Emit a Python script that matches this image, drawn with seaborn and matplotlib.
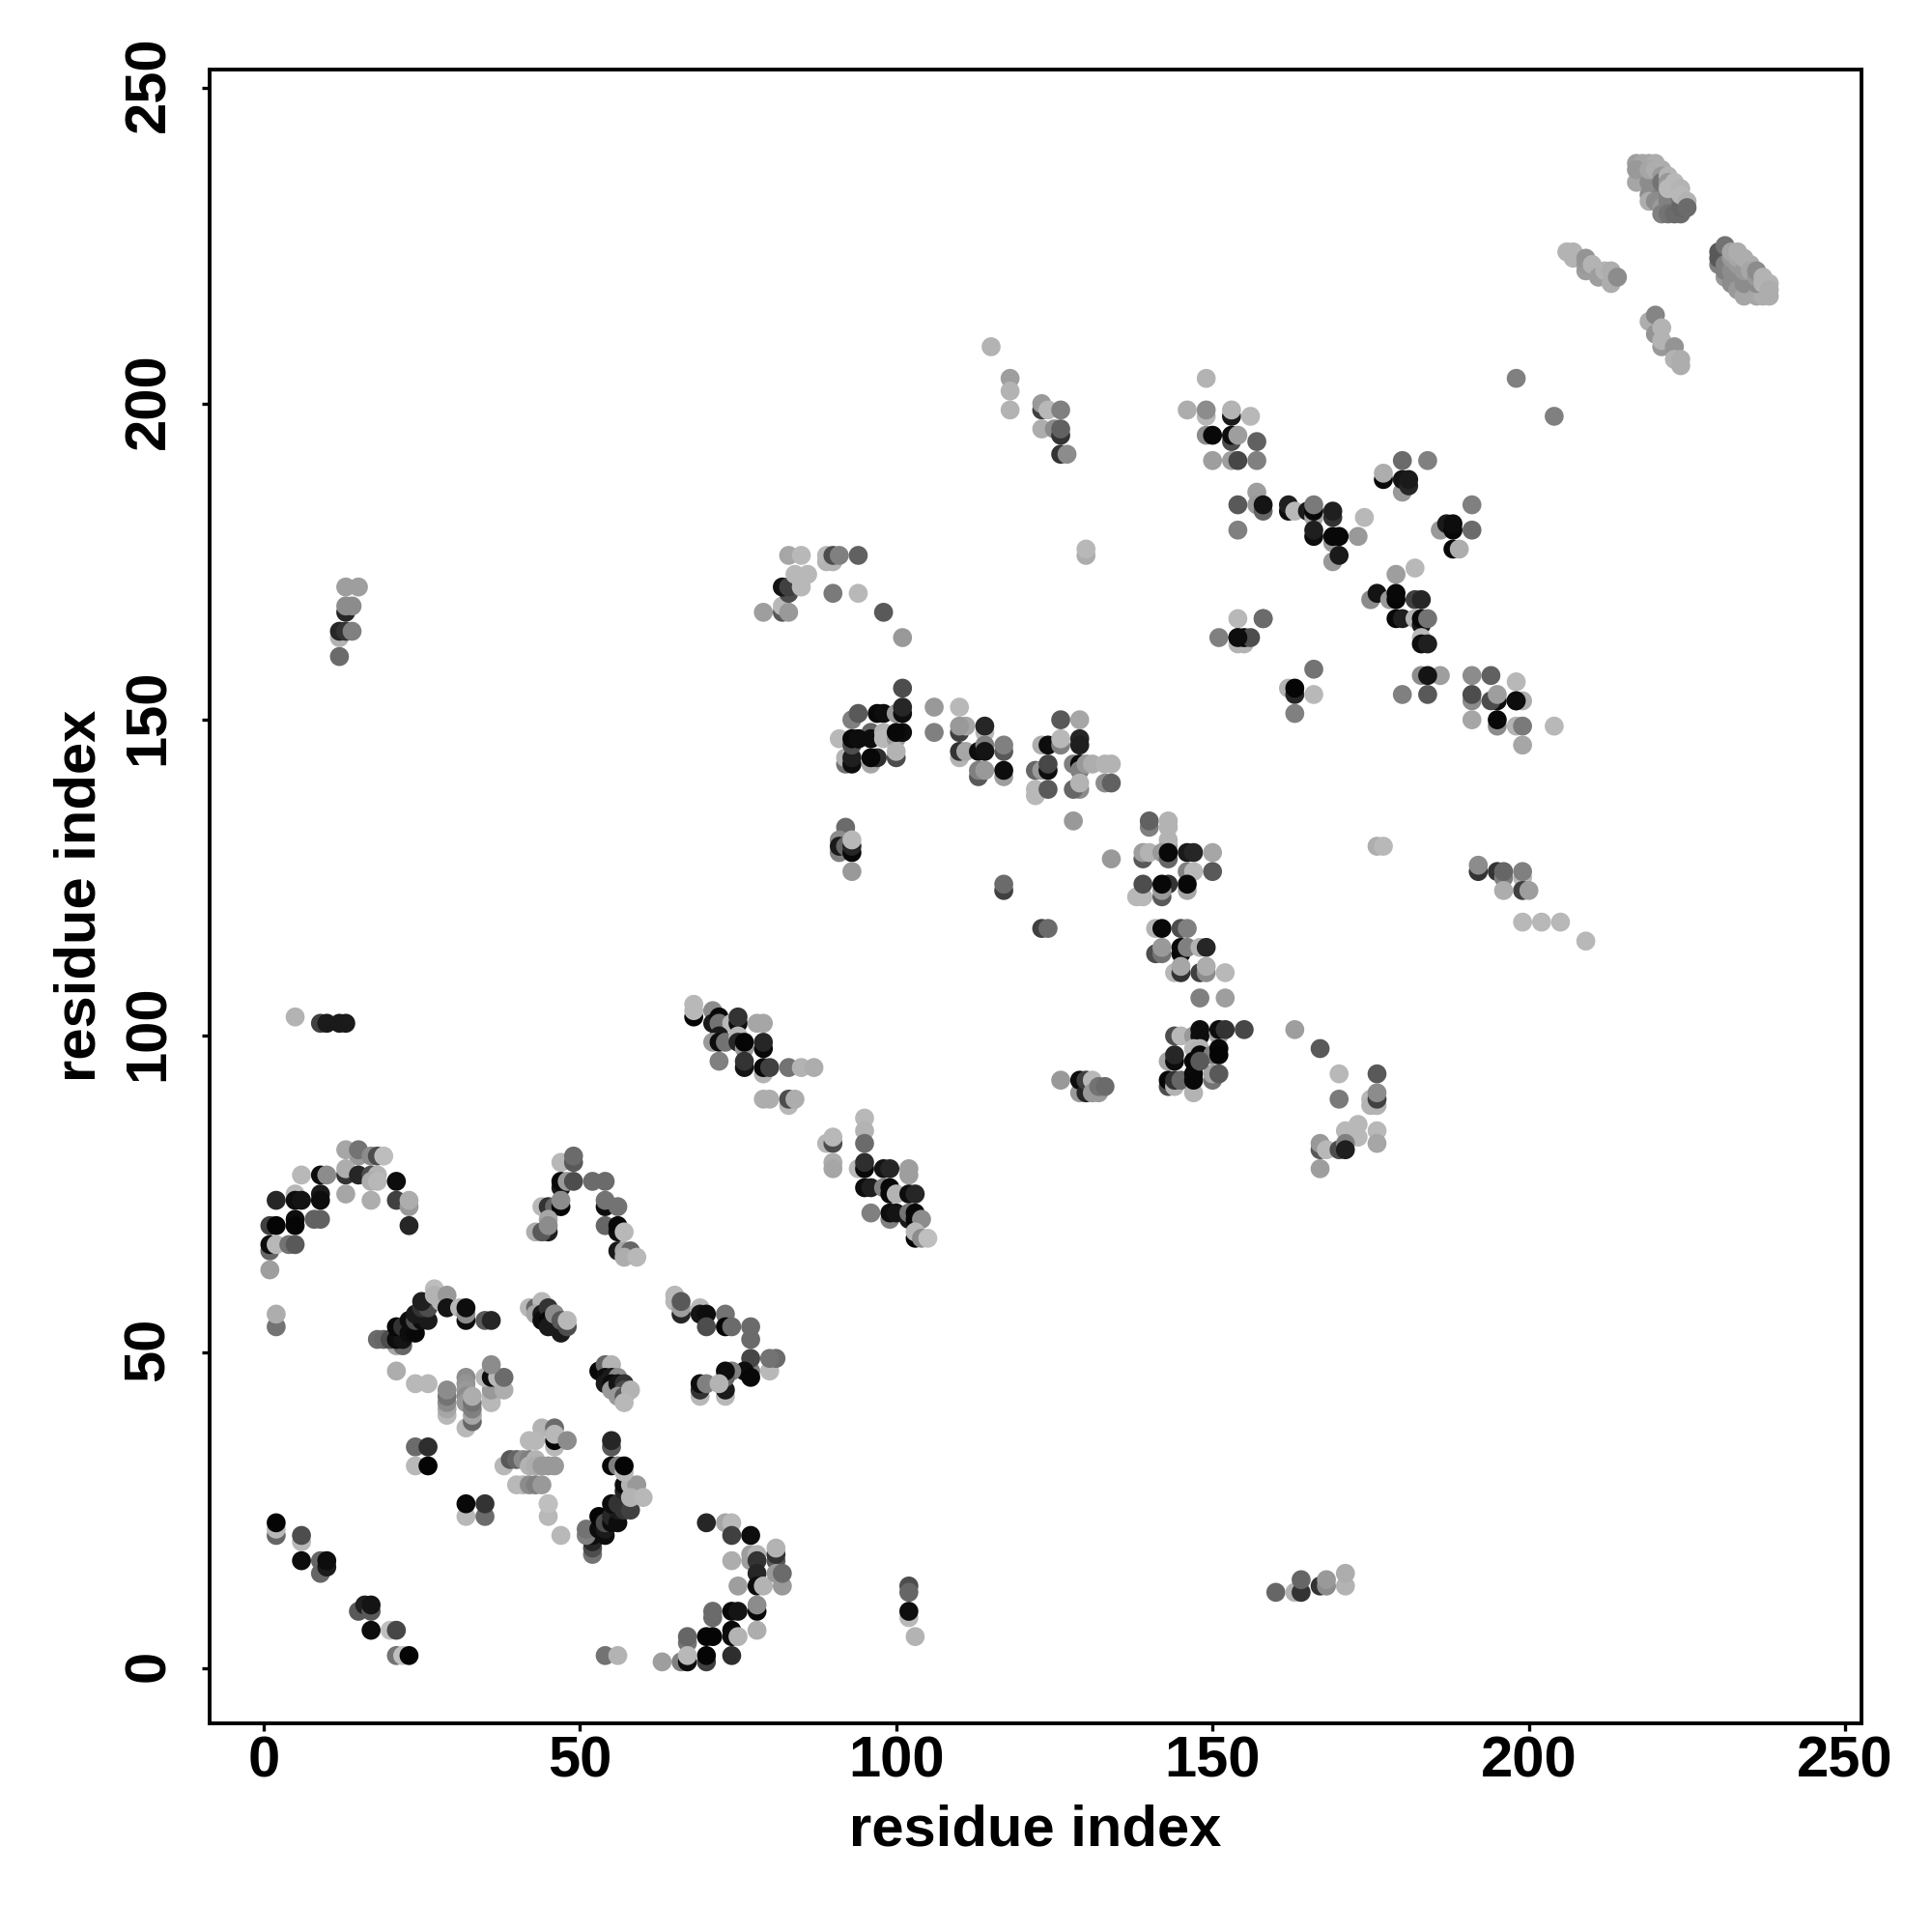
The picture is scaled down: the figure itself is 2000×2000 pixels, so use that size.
# Contact map: residue index vs residue index, gray = contact strength
import pandas as pd
import matplotlib
matplotlib.use("Agg")
import matplotlib.pyplot as plt
from matplotlib.transforms import ScaledTranslation
import seaborn as sns

# each cluster is listed back to front, the later points sit on top
arc1_x = [15,13,15,17,18,19,13,13,15,17,18,17,18,21,9,10,6,13,17,21,23,23,23,2,5,5,6,9,9,1,2,5,5,8,9,1,1,2,4,5,1,2,2]
arc1_y = [81,82,82,81,81,81,78,79,78,78,78,77,77,77,78,78,78,75,74,74,73,74,70,74,75,74,74,75,74,70,70,71,70,71,71,66,67,67,67,67,63,54,56]
arc1_g = [.6,.65,.45,.55,.3,.74,.2,.68,.15,.3,.7,.68,.72,.05,.05,.55,.72,.65,.68,.25,.6,.68,.15,.15,.72,.05,.08,.1,.05,.25,.02,.05,.02,.38,.38,.4,.05,.72,.45,.35,.62,.45,.68]

arc2_x = [47,49,49,47,47,48,49,52,54,44,45,46,47,47,54,54,56,43,45,44,45,45,54,56,56,57,56,57,58,57,59]
arc2_y = [80,80,81,76,77,77,77,77,77,73,73,73,73,74,73,74,73,69,69,69,71,70,70,69,70,69,66,66,66,65,65]
arc2_g = [.72,.35,.42,.1,.03,.6,.3,.42,.42,.72,.2,.4,.02,.55,.05,.45,.45,.68,.12,.35,.65,.55,.4,.05,.03,.72,.1,.65,.4,.68,.72]

band1_x = [21,22,18,19,20,21,22,21,22,23,24,23,24,25,26,24,25,26,25,27,27,28,29,29,31,32,32,32,35,36]
band1_y = [51,51,52,52,52,52,52,54,54,53,53,55,55,55,55,56,57,57,58,60,59,58,59,57,57,55,56,57,55,55]
band1_g = [.65,.4,.42,.4,.3,.05,.08,.03,.2,.05,.03,.05,.3,.05,.1,.1,.2,.3,.12,.74,.7,.7,.6,.08,.72,.05,.55,.05,.35,.15]

strip1_x = [21,24,26,29,29,29,29,29,32,32,32,32,32,32,33,33,33,33,33,36,36,36,36,35,36,37,38,38]
strip1_y = [47,45,45,40,41,42,43,44,46,45,44,43,42,38,39,40,41,42,43,42,43,44,47,46,46,46,44,46]
strip1_g = [.68,.72,.72,.72,.65,.55,.45,.55,.55,.58,.6,.55,.6,.72,.4,.65,.5,.45,.68,.72,.72,.6,.55,.72,.05,.72,.68,.42]
strip1_x += [36]
strip1_y += [48]
strip1_g += [.55]

mid1_x = [24,26,24,26,44,46,46,46,42,43,46,48,38,39,40,41,42,43,42,43,44,45,46,40,41,42,43,44,45,32,32,35,35,45,45,47]
mid1_y = [35,35,32,32,38,35,36,38,36,36,37,36,32,33,33,33,33,33,32,32,32,32,32,29,29,29,29,29,26,24,26,24,26,24,26,21]
mid1_g = [.42,.18,.72,.02,.7,.72,.02,.42,.72,.72,.72,.55,.72,.35,.4,.55,.5,.7,.7,.68,.6,.6,.6,.72,.72,.55,.5,.6,.72,.72,.03,.42,.2,.72,.75,.72]

band2_x = [42,43,44,43,44,44,45,45,45,46,46,46,47,47,47,48,48]
band2_y = [57,57,58,56,56,55,57,55,54,54,56,56,53,54,55,54,55]
band2_g = [.72,.4,.72,.65,.1,.05,.2,.03,.1,.1,.55,.55,.1,.1,.35,.3,.72]

band3_x = [53,54,55,54,55,56,54,55,55,56,57,57,56,57,58,57]
band3_y = [47,48,48,46,46,46,45,45,44,45,45,44,43,43,44,42]
band3_g = [.03,.4,.7,.05,.1,.55,.1,.05,.6,.08,.2,.3,.6,.35,.7,.72]

low1_x = [2,2,2,6,6,6,9,9,10,10,15,16,17,17,17,20,21,21,22,23]
low1_y = [21,22,23,20,21,17,15,17,16,17,9,10,9,10,6,6,6,2,2,2]
low1_g = [.4,.72,.02,.72,.3,.05,.4,.4,.1,.05,.35,.12,.35,.08,.05,.75,.28,.45,.75,.02]

band4_x = [52,52,52,52,51,51,53,53,54,54,54,55,55,56,56,55,56,57,58,57,57,58,59,58,60,54,56]
band4_y = [18,19,20,21,21,22,22,24,21,22,23,23,24,23,25,26,26,25,25,28,29,29,29,27,27,2,2]
band4_g = [.45,.3,.15,.05,.5,.45,.05,.02,.05,.1,.3,.05,.15,.05,.1,.05,.2,.2,.25,.15,.05,.7,.6,.7,.72,.45,.7]
band4_x += [55,55,55,56,57,57]
band4_y += [35,36,32,32,31,32]
band4_g += [.35,.15,.03,.5,.72,.02]

low2_x = [70,73,74,74,77,74,77,77,78,78,78,75,78,79,81,81,81,81,82,82]
low2_y = [23,23,23,21,21,17,17,18,18,17,15,13,13,13,17,18,19,15,13,15]
low2_g = [.15,.65,.72,.25,.05,.68,.62,.62,.7,.2,.15,.62,.05,.7,.35,.2,.7,.6,.6,.42]

low3_x = [71,71,74,75,78,78,78,74,74,75,67,67,70,71,66,67,70,70,74,63,102,102,102,102,103]
low3_y = [8,9,9,9,9,10,6,6,5,5,4,5,5,5,1,1,1,2,2,1,13,12,8,9,5]
low3_g = [.42,.42,.03,.08,.03,.55,.68,.03,.05,.7,.45,.4,.02,.02,.5,.05,.25,.02,.18,.62,.3,.4,.72,.05,.7]
low3_x += [67]
low3_y += [2]
low3_g += [.72]

mid2_x = [65,65,66,66,66,69,69,70,70,73,73,74,77,77,77,77,80,81,80,76,77]
mid2_y = [59,58,56,57,58,57,56,56,54,56,54,54,54,52,47,49,47,49,49,47,46]
mid2_g = [.72,.72,.15,.62,.35,.72,.08,.05,.3,.45,.02,.42,.42,.42,.5,.28,.72,.42,.45,.05,.03]

mid3_x = [73,73,74,73,73,69,69,69,70,72]
mid3_y = [43,44,47,46,47,43,44,45,45,45]
mid3_g = [.72,.1,.5,.4,.05,.72,.2,.05,.5,.7]

band5_x = [68,68,68,71,71,72,72,74,75,75,72,71,72,73,75,75,76,76,78,79,79,79,72,76,76,79,79,80,83,85,87,79,80,83,83,84]
band5_y = [103,104,105,104,102,103,102,102,102,103,100,99,99,99,100,99,98,99,102,102,98,99,96,95,96,94,95,95,95,95,95,90,90,89,90,90]
band5_g = [.02,.72,.72,.55,.1,.03,.45,.72,.05,.2,.1,.6,.05,.45,.72,.15,.6,.02,.65,.65,.03,.15,.5,.08,.2,.7,.03,.25,.45,.7,.68,.68,.68,.72,.3,.68]

band6_x = [95,95,95,89,90,90,90,90,94,95,95,98,99,102,102,95,96,98,99,99,100,102,103,96,99,99,100,102,102,103,103,104,103,103,104,105]
band6_y = [87,85,83,83,83,84,80,79,79,79,80,79,79,78,79,76,76,76,75,76,75,75,75,72,71,72,72,71,72,71,72,71,68,69,68,68]
band6_g = [.72,.7,.42,.72,.3,.72,.68,.65,.72,.03,.18,.08,.15,.62,.62,.05,.12,.5,.03,.03,.7,.05,.15,.5,.5,.05,.08,.1,.45,.03,.03,.55,.02,.72,.55,.75]

left_x = [5,9,10,12,13,12,13,13,14,12,12,13,14,13,15]
left_y = [103,102,102,102,102,160,167,168,168,163,164,164,164,171,171]
left_g = [.7,.25,.1,.1,.1,.42,.15,.55,.55,.7,.15,.2,.5,.62,.62]

bowl_x = [79,82,82,83,83,82,83,84,86,85,85,83,85,89,89,90,90,91,94,90,94,98,101]
bowl_y = [167,167,168,167,170,171,171,173,173,172,171,176,176,175,176,175,176,176,176,170,170,167,163]
bowl_g = [.62,.35,.72,.6,.3,.08,.25,.72,.72,.72,.72,.65,.72,.7,.72,.7,.3,.5,.38,.48,.72,.35,.6]

cl93_x = [93,94,97,98,100,101,101,91,92,92,93,93,93,94,96,96,96,97,100,98,98,100,101,100,100]
cl93_y = [150,151,151,151,151,151,152,147,143,144,143,144,146,147,143,148,147,144,144,148,147,147,148,148,145]
cl93_g = [.5,.35,.03,.05,.6,.05,.15,.72,.45,.7,.05,.12,.3,.05,.65,.4,.05,.18,.3,.7,.72,.6,.05,.03,.7]
cl93_x += [93,94,96,101]
cl93_y += [147,147,144,155]
cl93_g += [.03,.05,.03,.3]

cl110_x = [106,106,110,110,110,111,110,111,113,114,114,114,113,113,114,117,117,117,117,110]
cl110_y = [148,152,144,145,148,149,149,145,145,148,149,146,141,142,142,145,146,141,142,152]
cl110_g = [.5,.6,.7,.2,.25,.65,.6,.65,.05,.72,.15,.5,.35,.5,.6,.35,.5,.62,.05,.72]
cl110_x += [114]
cl110_y += [145]
cl110_g += [.08]

cl125_x = [122,122,122,123,124,124,124,123,124,126,126,126,129,129,129,128,129,129,129,128,129,130,131,133,134,133,134,128,130,130]
cl125_y = [138,139,142,142,142,143,139,146,146,146,147,150,150,147,146,143,143,142,139,139,140,143,143,143,143,140,140,134,176,177]
cl125_g = [.72,.72,.4,.6,.05,.28,.35,.68,.05,.5,.72,.35,.65,.15,.12,.5,.03,.5,.55,.4,.7,.6,.68,.7,.7,.55,.38,.6,.68,.72]

cl92_x = [92,92,91,91,91,92,93,93,93,93,117,117,123,124]
cl92_y = [132,133,131,129,130,130,129,130,131,126,123,124,117,117]
cl92_g = [.42,.42,.55,.5,.1,.4,.03,.15,.72,.6,.25,.42,.25,.42]

cl140_x = [140,140,143,143,143,143,139,139,140,142,143,143,146,147,150,134,146,147,150,138,139,139,142,143,142,146,146]
cl140_y = [133,134,133,134,130,131,128,129,129,129,128,129,129,129,129,128,126,126,126,122,122,124,122,124,123,123,124]
cl140_g = [.5,.38,.7,.7,.62,.7,.35,.62,.7,.6,.4,.03,.1,.15,.65,.6,.5,.72,.35,.72,.72,.3,.35,.2,.6,.65,.03]
cl140_x += [142]
cl140_y += [124]
cl140_g += [.03]

cl145_x = [141,142,145,146,141,142,142,145,145,146,148,149,144,145,145,148,149,149,152,148,152]
cl145_y = [117,117,117,117,113,113,114,113,114,114,114,114,110,110,111,110,110,111,110,106,106]
cl145_g = [.7,.03,.3,.5,.3,.45,.6,.02,.03,.5,.7,.15,.72,.2,.65,.25,.55,.68,.72,.5,.62]

cl147_x = [144,145,147,148,148,151,151,152,155,143,144,144,147,148,147,148,150,151,151]
cl147_y = [100,100,100,100,101,100,101,101,101,96,96,97,98,98,96,97,97,98,97]
cl147_g = [.3,.72,.6,.05,.05,.65,.05,.2,.28,.65,.05,.15,.72,.7,.03,.03,.5,.03,.02]
cl147_x += [143,143,144,144,145,147,147,147,150,150,151,148]
cl147_y += [92,93,92,93,93,91,93,94,93,94,94,96]
cl147_g += [.3,.03,.7,.2,.4,.7,.03,.03,.45,.65,.35,.35]

row93_x = [126,129,129,130,130,131,131,132,132,133]
row93_y = [93,91,93,91,93,93,91,91,92,92]
row93_g = [.6,.6,.05,.15,.25,.72,.6,.6,.45,.42]

cl170_x = [163,167,170,176,170,175,175,176,176,176,173,171,173,176,176,167,167,168,170,171,171,167]
cl170_y = [101,98,94,94,90,90,89,89,90,91,86,85,84,85,83,82,83,82,82,83,82,79]
cl170_g = [.62,.35,.72,.35,.48,.72,.7,.7,.25,.55,.72,.72,.72,.72,.65,.35,.6,.72,.3,.5,.12,.62]

cl195_x = [160,163,164,164,167,168,168,171,171,176,177,192,192,195,196,196,199,199,199,200,196,199,202,205,209]
cl195_y = [12,12,12,14,13,13,14,13,15,130,130,126,127,126,125,126,125,126,123,123,123,118,118,118,115]
cl195_g = [.4,.7,.2,.4,.2,.55,.6,.7,.68,.68,.72,.2,.55,.2,.5,.4,.72,.5,.25,.62,.68,.72,.72,.72,.72]

top1_x = [115,118,118,118,123,123,124,126,123,125,126,126,126,127]
top1_y = [209,204,202,199,199,200,199,199,196,196,195,196,192,192]
top1_g = [.7,.62,.7,.7,.25,.6,.72,.5,.68,.55,.2,.38,.2,.55]

top2_x = [149,146,149,149,153,153,156,149,150,153,153,154,157,150,153,154,157,198,204,198]
top2_y = [204,199,198,199,198,199,198,195,195,194,195,195,194,191,191,191,191,156,198,204]
top2_g = [.7,.68,.72,.55,.1,.7,.72,.55,.03,.3,.05,.62,.38,.62,.62,.28,.5,.72,.5,.5]

cl165_x = [157,154,157,158,158,154,162,162,163,165,166,166,166,169,169,174,166,166,169,169,170,173,169,170]
cl165_y = [186,184,184,183,184,180,183,184,183,183,182,183,184,182,183,182,179,180,178,179,179,179,175,176]
cl165_g = [.62,.35,.6,.4,.08,.5,.05,.12,.72,.1,.65,.03,.48,.2,.12,.72,.05,.12,.6,.03,.03,.6,.6,.1]

cl180_x = [177,177,180,184,180,180,181,181,191,186,187,188,188,191,188,189]
cl180_y = [188,189,186,191,191,188,187,188,184,180,181,180,181,180,177,177]
cl180_g = [.03,.68,.6,.5,.42,.08,.15,.1,.5,.6,.1,.03,.05,.42,.03,.68]

cl178_x = [182,179,175,176,178,179,179,182,183,179,180,182,183,183,184,183,183,184,186,183,184,180,184]
cl178_y = [174,173,169,170,169,169,170,169,169,166,166,166,165,166,166,163,162,162,157,157,157,154,154]
cl178_g = [.72,.62,.55,.08,.6,.02,.03,.25,.15,.03,.12,.7,.1,.03,.45,.72,.05,.12,.62,.55,.08,.5,.35]

cl155_x = [154,158,151,154,154,155,155,166,162,163,163,166,163,158,156,154]
cl155_y = [166,166,163,162,163,162,163,158,155,154,155,154,151,166,163,163]
cl155_g = [.72,.42,.5,.7,.3,.7,.02,.45,.7,.15,.02,.72,.5,.42,.3,.05]

cl195b_x = [191,194,191,191,195,194,195,198,199,191,195,195,198,199,204,199,198]
cl195b_y = [157,157,153,154,153,153,154,153,153,150,149,150,149,149,149,146,153]
cl195b_g = [.55,.38,.55,.3,.05,.3,.62,.05,.68,.65,.55,.03,.7,.48,.72,.65,.05]

# dense diagonal strands at the top right, the two dark points show through small gaps
strandA_x = [218,220,217,219,219,221,219,220,221,222,222,223,222,223,224,221,222,223,224,224,217,218,219,220,217,219,221,220,221,221,222,222,223,222,223,224,224,225,225]
strandA_y = [236,234,235,233,235,233,232,232,231,231,232,232,233,233,232,230,230,230,230,231,238,238,238,238,237,237,237,237,236,235,236,235,235,234,234,234,233,232,231]
strandA_g = [.2,.2,.65,.55,.55,.5,.68,.55,.6,.55,.5,.45,.5,.5,.45,.5,.45,.42,.42,.4,.62,.65,.65,.68,.6,.65,.68,.68,.6,.45,.7,.6,.72,.72,.72,.7,.72,.7,.42]

strandB_x = [233,235,230,230,230,231,231,231,232,232,232,233,233,233,234,234,234,236,237,238,236,231,232,233,234,235,235,236,236,237,237,238,238]
strandB_y = [220,218,222,223,224,220,221,222,219,221,223,218,222,223,217,219,221,217,217,217,219,225,224,224,223,222,221,220,221,220,219,219,218]
strandB_g = [.2,.2,.5,.35,.35,.6,.5,.5,.55,.55,.6,.6,.6,.65,.65,.55,.6,.65,.68,.68,.55,.45,.65,.68,.68,.68,.65,.6,.55,.7,.7,.7,.68]

strandC_x = [206,207,207,209,209,209,210,211,212,213,213,214,219,220,220,221,221,221,223,223,224,224]
strandC_y = [224,224,223,221,222,223,222,220,221,219,221,220,213,211,214,209,210,212,209,207,206,207]
strandC_g = [.7,.7,.7,.62,.6,.58,.7,.62,.7,.68,.68,.55,.68,.58,.52,.6,.7,.7,.58,.7,.68,.68]

residue_a = (arc1_x + arc2_x + band1_x + strip1_x + mid1_x + band2_x + band3_x + low1_x + band4_x + low2_x
             + low3_x + mid2_x + mid3_x + band5_x + band6_x + left_x + bowl_x + cl93_x + cl110_x + cl125_x
             + cl92_x + cl140_x + cl145_x + cl147_x + row93_x + cl170_x + cl195_x + top1_x + top2_x + cl165_x
             + cl180_x + cl178_x + cl155_x + cl195b_x + strandA_x + strandB_x + strandC_x)
residue_b = (arc1_y + arc2_y + band1_y + strip1_y + mid1_y + band2_y + band3_y + low1_y + band4_y + low2_y
             + low3_y + mid2_y + mid3_y + band5_y + band6_y + left_y + bowl_y + cl93_y + cl110_y + cl125_y
             + cl92_y + cl140_y + cl145_y + cl147_y + row93_y + cl170_y + cl195_y + top1_y + top2_y + cl165_y
             + cl180_y + cl178_y + cl155_y + cl195b_y + strandA_y + strandB_y + strandC_y)
gray_level = (arc1_g + arc2_g + band1_g + strip1_g + mid1_g + band2_g + band3_g + low1_g + band4_g + low2_g
              + low3_g + mid2_g + mid3_g + band5_g + band6_g + left_g + bowl_g + cl93_g + cl110_g + cl125_g
              + cl92_g + cl140_g + cl145_g + cl147_g + row93_g + cl170_g + cl195_g + top1_g + top2_g + cl165_g
              + cl180_g + cl178_g + cl155_g + cl195b_g + strandA_g + strandB_g + strandC_g)

tick_values = [0, 50, 100, 150, 200, 250]

sns.set_style("white")
plt.rcParams["font.family"] = ["Liberation Sans", "DejaVu Sans"]
plt.rcParams["text.color"] = "black"
plt.rcParams["axes.labelcolor"] = "black"
plt.rcParams["xtick.color"] = "black"
plt.rcParams["ytick.color"] = "black"

df = pd.DataFrame({"a": residue_a, "b": residue_b, "gray": gray_level})
gray_palette = {g: str(g) for g in df["gray"].unique()}

fig = plt.figure(figsize=(10, 10), dpi=200)
ax = fig.add_axes([0.1084, 0.1082, 0.8552, 0.8560])

sns.scatterplot(data=df, x="a", y="b", hue="gray", palette=gray_palette,
                s=50, linewidth=0, legend=False, ax=ax, clip_on=False)

ax.set_xlim(-8.55, 252.6)
ax.set_ylim(-8.66, 252.9)
ax.set_xticks(tick_values)
ax.set_yticks(tick_values)
ax.set_xticklabels(tick_values, fontsize=21.5, fontweight="bold")
ax.set_yticklabels(tick_values, fontsize=21.5, fontweight="bold", rotation=90, va="center")
ax.tick_params(axis="x", length=3, width=1.2, pad=1.5, bottom=True)
ax.tick_params(axis="y", length=3, width=1.2, pad=9.5, left=True)
ax.set_xlabel("residue index", fontsize=21.5, fontweight="bold", labelpad=6)
ax.set_ylabel("residue index", fontsize=21.5, fontweight="bold", labelpad=6)
for spine in ax.spines.values():
    spine.set_visible(True)
    spine.set_color("black")
    spine.set_linewidth(1.4)

# rotated y tick labels sit a little high in the original
shift_up = ScaledTranslation(0, 3 / 200, fig.dpi_scale_trans)
for label in ax.get_yticklabels():
    label.set_transform(label.get_transform() + shift_up)

fig.savefig("out.png", dpi=200, facecolor="white")
print(len(df), "contacts drawn")
